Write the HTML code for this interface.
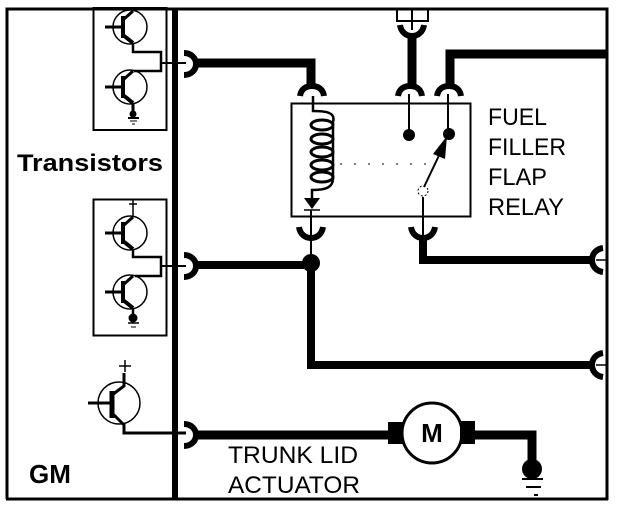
<!DOCTYPE html>
<html><head><meta charset="utf-8"><style>html,body{margin:0;padding:0;background:#fff}svg{display:block}text{font-family:"Liberation Sans",sans-serif;fill:#000}</style></head>
<body><svg width="640" height="516" viewBox="0 0 640 516" fill="none" stroke="#000" stroke-linejoin="miter">
<defs>
<g id="fd"><path d="M-12 10C-11 3-6 0 0 0S11 3 12 10" stroke-width="6"/></g>
<g id="fu"><path d="M-12 0C-11 7-6 11 0 11S11 7 12 0" stroke-width="6"/></g>
<g id="fr"><path d="M0-11C7-11 12-6 12 0S7 11 0 11" stroke-width="6"/></g>
<g id="fl"><path d="M11-12C4-11 0-6 0 0S4 11 11 12" stroke-width="6"/></g>
<g id="t"><circle r="17" stroke-width="1.5"/><path d="M-25 0H-7" stroke-width="3"/><path d="M-7-11V11" stroke-width="4"/><path d="M-7-7L3-16" stroke-width="3"/><path d="M-7 8L3 16" stroke-width="4"/></g>
</defs>
<path d="M7 499V9H607V500" stroke-width="3"/>
<path d="M6 499H608" stroke-width="3"/>
<path d="M175 8V499" stroke-width="6"/>
<!-- transistor boxes -->
<rect x="93.5" y="8" width="73" height="122" stroke-width="2"/>
<rect x="93.5" y="199.5" width="73" height="136" stroke-width="2"/>
<use href="#t" x="130" y="27"/><use href="#t" x="130" y="87"/>
<use href="#t" x="130" y="233"/><use href="#t" x="130" y="292"/>
<path d="M133 43V52H161V71H134" stroke-width="2.5"/><path d="M161 63H186" stroke-width="2"/>
<path d="M133 249V257H161V276H135" stroke-width="2.5"/><path d="M161 266H186" stroke-width="2"/>
<path d="M133 217V208M129 204H137M133 200V208" stroke-width="1.5"/>
<path d="M133 103V116" stroke-width="3"/><circle cx="133" cy="114" r="3.5" fill="#000" stroke="none"/><path d="M128 118H139" stroke-width="2"/><path d="M130 121H137M132 124H135" stroke-width="1"/>
<path d="M133 308V322" stroke-width="2.5"/><circle cx="133" cy="318" r="4.5" fill="#000" stroke="none"/><path d="M128 323H139" stroke-width="1.5"/><path d="M131 327H136" stroke-width="1"/>
<!-- third transistor -->
<circle cx="119" cy="403" r="21" stroke-width="1.5"/>
<path d="M88 403H112" stroke-width="3"/><path d="M112 391V418" stroke-width="5"/>
<path d="M112 395L124 386V373" stroke-width="3"/><path d="M112 413L124 425V433H186" stroke-width="3"/>
<path d="M119 366H131M125 360V372" stroke-width="1.5"/>
<!-- bus forks -->
<use href="#fr" x="184" y="64"/><use href="#fr" x="184" y="266"/><use href="#fr" x="184" y="435"/>
<!-- wires -->
<path d="M195 63H311V86" stroke-width="9"/>
<path d="M195 265H311V365H593" stroke-width="8"/>
<circle cx="311" cy="263" r="9" fill="#000" stroke="none"/>
<path d="M195 435H390" stroke-width="9"/>
<path d="M412 36V86" stroke-width="9"/>
<path d="M607 54H450V86" stroke-width="9"/>
<path d="M423 238V260H593" stroke-width="8"/>
<use href="#fl" x="592" y="260"/><use href="#fl" x="592" y="365"/>
<path d="M596 260H607M596 365H607" stroke-width="1.5"/>
<!-- top plug -->
<path d="M397 8V21H428V8" stroke-width="2"/><path d="M412 8V30" stroke-width="2"/>
<use href="#fu" x="412" y="25"/>
<!-- relay -->
<rect x="291.5" y="103.5" width="179" height="113" stroke-width="2"/>
<use href="#fd" x="312" y="86"/><use href="#fd" x="410" y="86"/><use href="#fd" x="449" y="86"/>
<use href="#fu" x="311" y="227"/><use href="#fu" x="423" y="227"/>
<path d="M313 96V111C325 111 336 112 333 122V178C333 188 325 190 312 190V198" stroke-width="2.5"/>
<g stroke-width="3"><ellipse cx="322" cy="125" rx="11" ry="5"/><ellipse cx="322" cy="139" rx="11" ry="5"/><ellipse cx="322" cy="152" rx="11" ry="5"/><ellipse cx="322" cy="165" rx="11" ry="5"/><ellipse cx="322" cy="177" rx="11" ry="5"/></g>
<path d="M304 198H320L312 209Z" fill="#000" stroke="none"/>
<path d="M304 210H320" stroke-width="1.5"/>
<path d="M311 210V262" stroke-width="2"/>
<path d="M409 94V135" stroke-width="2"/><circle cx="409" cy="135" r="6" fill="#000" stroke="none"/>
<path d="M448 94V134" stroke-width="2"/><circle cx="449" cy="134" r="6" fill="#000" stroke="none"/>
<path d="M424 187L444 145" stroke-width="2"/><path d="M447 136L433 154L445 159Z" fill="#000" stroke="none"/>
<circle cx="423" cy="191" r="5" stroke-width="1" stroke-dasharray="2 2"/>
<path d="M423 197V236" stroke-width="2"/>
<path d="M340 164H432" stroke-width="1" stroke-dasharray="2 12"/>
<!-- motor -->
<circle cx="432" cy="433" r="30" stroke-width="3" fill="#fff"/>
<rect x="388" y="422" width="15" height="22" fill="#000" stroke="none"/>
<rect x="460" y="421" width="15" height="23" fill="#000" stroke="none"/>
<path d="M474 435H532V462" stroke-width="9"/>
<circle cx="532" cy="469" r="10" fill="#000" stroke="none"/>
<path d="M522 479H543" stroke-width="2"/><path d="M526 487H541" stroke-width="2"/><path d="M534 495H538" stroke-width="2"/>
<g stroke="none">
<text x="17" y="171" font-size="24" font-weight="bold" textLength="146" lengthAdjust="spacingAndGlyphs">Transistors</text>
<text x="29" y="483" font-size="26" font-weight="bold">GM</text>
<text x="432" y="442" font-size="26" font-weight="bold" text-anchor="middle">M</text>
<text x="488" y="125" font-size="24.5" textLength="59" lengthAdjust="spacingAndGlyphs">FUEL</text>
<text x="488" y="155" font-size="24.5" textLength="78" lengthAdjust="spacingAndGlyphs">FILLER</text>
<text x="488" y="185" font-size="24.5" textLength="59" lengthAdjust="spacingAndGlyphs">FLAP</text>
<text x="488" y="215" font-size="24.5" textLength="76" lengthAdjust="spacingAndGlyphs">RELAY</text>
<text x="228" y="463" font-size="24.5" textLength="130" lengthAdjust="spacingAndGlyphs">TRUNK LID</text>
<text x="228" y="493" font-size="24.5" textLength="132" lengthAdjust="spacingAndGlyphs">ACTUATOR</text>
</g>
</svg></body></html>
